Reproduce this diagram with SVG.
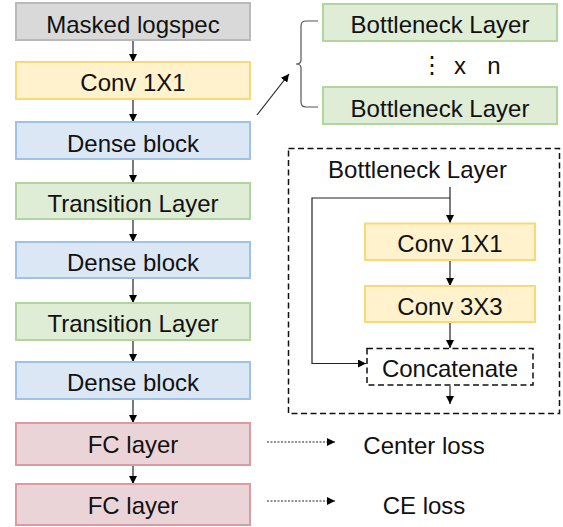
<svg xmlns="http://www.w3.org/2000/svg" width="563" height="527" viewBox="0 0 563 527">
<defs>
<marker id="ah" viewBox="0 0 10 10" refX="10" refY="5" markerWidth="8" markerHeight="8" markerUnits="userSpaceOnUse" orient="auto">
<path d="M0,0 L10,5 L0,10 Z" fill="#000"/>
</marker>
</defs>
<style>
text{font-family:"Liberation Sans",Arial,sans-serif;font-size:24px;fill:#111;text-anchor:middle}
.box{stroke-width:2}
.gray{fill:#d9d9d9;stroke:#b9b9b9}
.yel{fill:#fff2cc;stroke:#f8d978}
.blue{fill:#dbe7f5;stroke:#a0c2e7}
.green{fill:#dfecd6;stroke:#b2d59f}
.pink{fill:#ebd4d8;stroke:#d99ca5}
.conn{stroke:#222;stroke-width:1.2;fill:none}
.dash{fill:none;stroke:#111;stroke-width:1.5;stroke-dasharray:6,3.5}
.dot{stroke:#222;stroke-width:1;stroke-dasharray:2,1.5;fill:none}
</style>
<g id="connectors">
<line class="conn" x1="133" y1="40" x2="133" y2="62" marker-end="url(#ah)"/>
<line class="conn" x1="133" y1="99" x2="133" y2="122" marker-end="url(#ah)"/>
<line class="conn" x1="133" y1="159" x2="133" y2="183" marker-end="url(#ah)"/>
<line class="conn" x1="133" y1="219" x2="133" y2="242" marker-end="url(#ah)"/>
<line class="conn" x1="133" y1="278" x2="133" y2="303" marker-end="url(#ah)"/>
<line class="conn" x1="133" y1="340" x2="133" y2="362" marker-end="url(#ah)"/>
<line class="conn" x1="133" y1="399" x2="133" y2="423" marker-end="url(#ah)"/>
<line class="conn" x1="133" y1="465" x2="133" y2="484" marker-end="url(#ah)"/>
<line class="conn" x1="257" y1="115" x2="289" y2="74" marker-end="url(#ah)"/>
<line class="conn" x1="450" y1="187" x2="450" y2="223" marker-end="url(#ah)"/>
<polyline class="conn" points="450,198 312,198 312,363.5 366,363.5" marker-end="url(#ah)"/>
<line class="conn" x1="450" y1="260" x2="450" y2="286" marker-end="url(#ah)"/>
<line class="conn" x1="450" y1="322" x2="450" y2="348" marker-end="url(#ah)"/>
<line class="conn" x1="450" y1="386" x2="450" y2="404" marker-end="url(#ah)"/>
<line class="dot" x1="267" y1="442" x2="335" y2="442" marker-end="url(#ah)"/>
<line class="dot" x1="267" y1="501" x2="335" y2="501" marker-end="url(#ah)"/>
<path d="M318,21 L306,21 Q301,21 301,26 L301,60 Q301,64 296,64 Q301,64 301,68 L301,102 Q301,107 306,107 L318,107" fill="none" stroke="#555" stroke-width="1.2"/>
</g>
<g id="masked"><rect class="box gray" x="16" y="3" width="234" height="37"/><text x="133" y="33">Masked logspec</text></g>
<g id="conv1"><rect class="box yel" x="16" y="62" width="234" height="37"/><text x="133" y="91">Conv 1X1</text></g>
<g id="dense1"><rect class="box blue" x="16" y="122" width="234" height="37"/><text x="133" y="151.5">Dense block</text></g>
<g id="trans1"><rect class="box green" x="16" y="183" width="234" height="36"/><text x="133" y="212">Transition Layer</text></g>
<g id="dense2"><rect class="box blue" x="16" y="242" width="234" height="36"/><text x="133" y="271">Dense block</text></g>
<g id="trans2"><rect class="box green" x="16" y="303" width="234" height="37"/><text x="133" y="332">Transition Layer</text></g>
<g id="dense3"><rect class="box blue" x="16" y="362" width="234" height="37"/><text x="133" y="391">Dense block</text></g>
<g id="fc1"><rect class="box pink" x="16" y="423" width="234" height="42"/><text x="133" y="452.5">FC layer</text></g>
<g id="fc2"><rect class="box pink" x="16" y="484" width="234" height="41"/><text x="133" y="513.5">FC layer</text></g>
<g id="bneck1"><rect class="box green" x="323" y="4" width="234" height="37"/><text x="440" y="33">Bottleneck Layer</text></g>
<g id="xn"><text x="432" y="73">⋮</text><text x="460" y="73.5">x</text><text x="494" y="73.5">n</text></g>
<g id="bneck2"><rect class="box green" x="323" y="87" width="234" height="37"/><text x="440" y="116.5">Bottleneck Layer</text></g>
<g id="detail"><rect class="dash" x="288.5" y="148.5" width="271" height="265"/><text x="417.5" y="177.5">Bottleneck Layer</text></g>
<g id="iconv1"><rect class="box yel" x="365" y="223.5" width="170" height="36.5"/><text x="450" y="252">Conv 1X1</text></g>
<g id="iconv3"><rect class="box yel" x="365" y="286" width="170" height="36"/><text x="450" y="315">Conv 3X3</text></g>
<g id="concat"><rect class="dash" x="367" y="348.5" width="166" height="36.5"/><text x="450" y="377">Concatenate</text></g>
<g id="center"><text x="424" y="453.5">Center loss</text></g>
<g id="ce"><text x="424" y="513.5">CE loss</text></g>
</svg>
